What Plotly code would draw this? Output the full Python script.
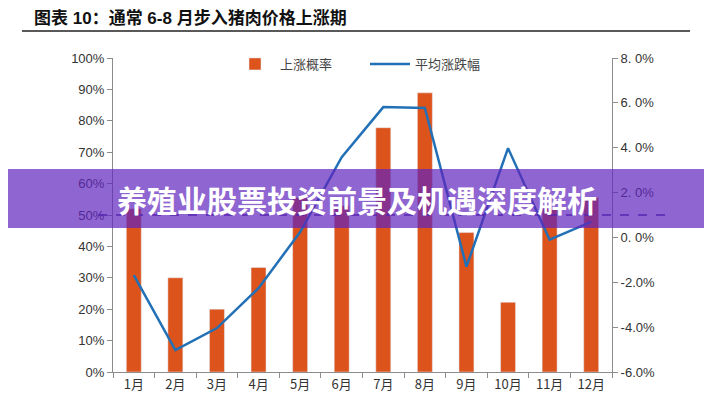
import plotly.graph_objects as go

months = ["1月", "2月", "3月", "4月", "5月", "6月", "7月", "8月", "9月", "10月", "11月", "12月"]
rise_prob = [0.52, 0.30, 0.20, 0.333, 0.556, 0.53, 0.778, 0.889, 0.444, 0.222, 0.52, 0.556]
avg_change = [-0.0168, -0.0502, -0.0404, -0.0226, 0.0024, 0.0358, 0.0581, 0.0577, -0.0130, 0.0398, -0.0010, 0.0069]

left_ticks = [0, 0.1, 0.2, 0.3, 0.4, 0.5, 0.6, 0.7, 0.8, 0.9, 1.0]
right_ticks = [-0.06, -0.04, -0.02, 0.0, 0.02, 0.04, 0.06, 0.08]
right_labels = ["-6.0%", "-4.0%", "-2.0%", "0. 0%", "2. 0%", "4. 0%", "6. 0%", "8. 0%"]

title_text = "图表 10：通常 6-8 月步入猪肉价格上涨期"
banner_text = "养殖业股票投资前景及机遇深度解析"

BAR = "#DD531C"
LINE = "#2270B5"
AX = "#8c8c8c"
TXT = "#333333"

# page body has an 8px default margin
OFF = 8
L, R, T, B = 113, 612, 58, 372   # plot area in screen px
PW, PH = R - L, B - T


def px(x):
    return (x - L) / PW


def py(y):
    return (B - y) / PH


fig = go.Figure()
fig.add_trace(go.Bar(x=months, y=rise_prob, name="上涨概率", marker_color=BAR,
                     width=0.36, yaxis="y"))
fig.add_trace(go.Scatter(x=months, y=avg_change, name="平均涨跌幅", mode="lines",
                         line=dict(color=LINE, width=2.5), yaxis="y2"))

fig.update_layout(
    width=712 - OFF, height=400 - OFF,
    margin=dict(l=L - OFF, r=712 - R, t=T - OFF, b=400 - B, autoexpand=False),
    paper_bgcolor="white", plot_bgcolor="white",
    font=dict(family="Liberation Sans, Noto Sans CJK SC", color=TXT, size=13),
    showlegend=True,
    legend=dict(orientation="h", x=px(230), xanchor="left", y=py(64), yanchor="middle",
                font=dict(family="Noto Sans CJK SC", size=13, color="#444"),
                bgcolor="rgba(0,0,0,0)", itemwidth=40, traceorder="normal",
                entrywidth=80, entrywidthmode="pixels"),
    xaxis=dict(type="category", showline=True, linecolor=AX, linewidth=1,
               ticks="outside", tickson="boundaries", ticklen=5, tickcolor=AX,
               showgrid=False, tickfont=dict(family="Noto Sans CJK SC", size=13, color=TXT)),
    yaxis=dict(range=[0, 1.0], tickvals=left_ticks, tickformat=".0%",
               showline=True, linecolor=AX, linewidth=1, ticks="outside", ticklen=5,
               tickcolor=AX, showgrid=False, zeroline=False,
               tickfont=dict(size=13, color=TXT)),
    yaxis2=dict(range=[-0.06, 0.08], tickvals=right_ticks, ticktext=right_labels,
                overlaying="y", side="right", showline=True, linecolor=AX, linewidth=1,
                ticks="outside", ticklen=5, tickcolor=AX, showgrid=False, zeroline=False,
                tickfont=dict(size=13, color=TXT)),
    bargap=0.5,
)

# title and underline
fig.add_annotation(text="<b>" + title_text + "</b>", xref="paper", yref="paper",
                   x=px(33), y=py(18), xanchor="left", yanchor="middle", borderpad=0,
                   showarrow=False,
                   font=dict(family="Liberation Sans, Noto Sans CJK SC", size=17, color="#111"))
fig.add_shape(type="line", xref="paper", yref="paper",
              x0=px(22), x1=px(690), y0=py(31), y1=py(31),
              line=dict(color="#222", width=1.5))

# 50% dashed reference line
fig.add_shape(type="line", xref="paper", yref="y",
              x0=px(98), x1=px(667), y0=0.5, y1=0.5,
              line=dict(color="rgba(70,40,150,0.75)", width=2, dash="dash"), layer="above")

# purple banner
fig.add_shape(type="rect", xref="paper", yref="paper",
              x0=px(OFF), x1=px(712), y0=py(228), y1=py(169),
              fillcolor="rgba(95,35,190,0.70)", line=dict(width=0), layer="above")
fig.add_annotation(text="<b>" + banner_text + "</b>", xref="paper", yref="paper",
                   x=px(357), y=py(199), xanchor="center", yanchor="middle",
                   showarrow=False,
                   font=dict(family="Noto Sans CJK SC", size=30, color="white"))

fig.write_html("out.html")
